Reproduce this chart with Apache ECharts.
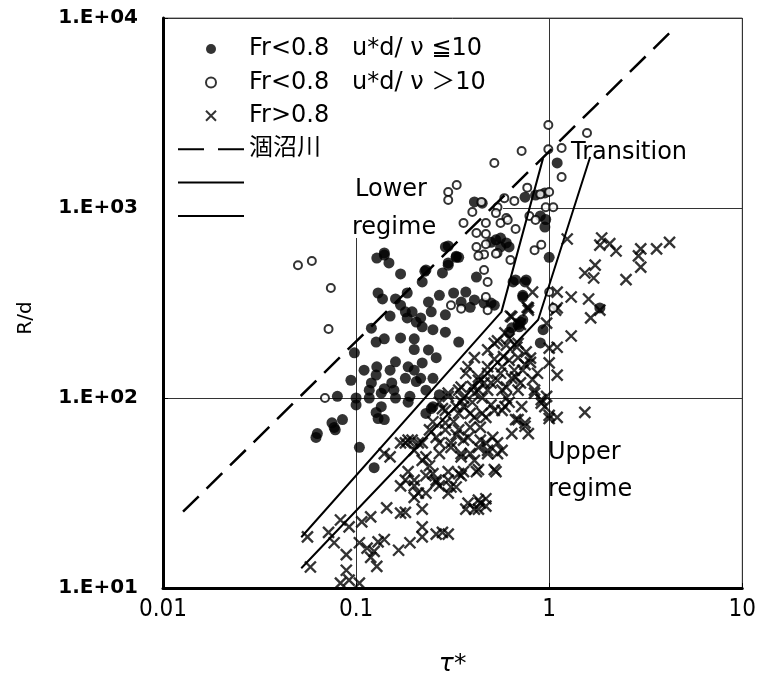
<!DOCTYPE html>
<html>
<head>
<meta charset="utf-8">
<script src="https://cdn.jsdelivr.net/npm/echarts@6/dist/echarts.min.js"></script>
<style>
html,body{margin:0;padding:0;background:#fff;}
#chart{width:759px;height:691px;}
</style>
</head>
<body>
<div id="chart"></div>
<script>
// ---- Data (τ*, R/d) ----
const xTickLabels = ['0.01', '0.1', '1', '10'];
const yTickLabels = ['1.E+01', '1.E+02', '1.E+03', '1.E+04'];

const seriesNames = ['Fr<0.8   u*d/ ν ≦10', 'Fr<0.8   u*d/ ν ＞10', 'Fr>0.8', '涸沼川', '境界線A', '境界線B'];

const lowFine = [ // Fr<0.8, u*d/ν ≤ 10 (filled)
  [0.128,545],[0.14,565],[0.148,514],[0.17,450],[0.227,464],[0.22,408],[0.28,455],[0.30,514],[0.33,550],[0.29,624],
  [0.42,433],[0.65,408],[0.75,408],[0.73,340],[1.0,550],[0.13,357],[0.137,332],[0.16,332],[0.184,357],[0.237,320],
  [0.27,347],[0.32,357],[0.37,361],[0.41,328],[0.52,308],[0.17,308],[0.18,284],[0.195,284],[0.245,284],[0.29,274],
  [0.184,264],[0.205,251],[0.216,264],[0.22,237],[0.25,229],[0.29,222],[0.34,197],[0.12,233],[0.127,197],[0.14,205],
  [0.17,207],[0.20,205],[0.098,173],[0.094,124],[0.08,102],[0.1,100],[0.16,155],[0.186,146],[0.22,153],[0.237,179],
  [0.26,163],[0.25,127],[0.128,146],[0.127,132],[0.12,120],[0.153,120],[0.18,127],[0.205,122],[0.216,127],[0.117,110],
  [0.14,112],[0.157,110],[0.19,102],[0.27,104],[0.117,100],[0.16,100],[0.71,251],[0.70,237],[0.93,229],[0.90,195],
  [0.50,316],[0.46,316],[1.83,298],[0.73,258],[0.69,244],[0.64,234],[0.62,222],[0.1,92],[0.063,65],[0.062,62],
  [0.075,74],[0.078,68],[0.085,77],[0.104,55],[0.124,43],[0.127,84],[0.13,78],[0.14,77],[0.135,90],[0.23,83],
  [0.245,88],[0.077,70],[0.135,106],[0.186,95],[0.25,90],[1.1,1726],[0.75,1140],[0.85,1170],[0.95,1200],[0.41,1077],
  [0.45,1060],[0.9,908],[0.96,870],[0.95,794],[0.56,695],[0.53,680],[0.6,655],[0.50,660],[0.30,631],[0.33,558],
  [0.14,580],[0.23,472],[0.30,500],[0.34,550],[0.62,624],[0.56,624],[0.67,418],[0.76,418],[0.73,347],
  [0.15,270],[0.2,180],[0.11,140],[0.15,140],[0.2,140],[0.23,110],[0.35,320],[0.39,300]
];

const lowCoarse = [ // Fr<0.8, u*d/ν > 10 (open)
  [0.05,500],[0.059,526],[0.074,379],[0.072,231],[0.069,100],[0.99,2735],[0.99,2040],[1.16,2070],[1.57,2480],[0.72,1995],
  [1.16,1455],[1.0,1213],[0.9,1180],[0.77,1280],[0.52,1726],[0.332,1321],[0.30,1213],[0.30,1101],[0.586,1127],[0.66,1090],
  [0.446,1077],[0.40,953],[0.54,1010],[0.53,940],[0.96,1010],[1.05,1010],[0.60,885],[0.79,908],[0.85,865],[0.36,834],
  [0.47,834],[0.56,834],[0.61,865],[0.42,738],[0.47,730],[0.67,775],[0.42,624],[0.47,645],[0.54,580],[0.84,600],
  [0.91,640],[0.46,570],[0.43,560],[0.53,575],[0.63,532],[0.46,472],[0.48,408],[0.31,308],[0.35,295],[0.47,340],
  [0.48,290],[1.0,361],[1.05,298]
];

const highFr = [ // Fr > 0.8 (crosses)
  [1.24,687],[1.87,695],[1.83,638],[2.06,650],[2.22,594],[2.98,610],[2.9,560],[3.6,610],[4.2,660],[2.98,489],
  [1.53,455],[1.73,500],[1.7,428],[2.5,420],[0.82,361],[1.1,361],[1.3,340],[1.6,332],[1.83,290],[1.64,264],
  [1.1,298],[0.78,298],[0.63,270],[0.97,248],[1.3,212],[1.1,185],[1.0,153],[1.1,132],[1.0,183],[1.53,84],
  [1.1,79],[1.0,78],[0.77,300],[1.08,290],[0.8,162],[0.95,90],[1.0,81],
  [0.64,267],[0.59,220],[0.52,194],[0.48,179],[0.41,163],[0.76,175],[0.69,194],[0.62,158],[0.8,154],[0.67,129],
  [0.56,135],[0.48,146],[0.43,129],[0.37,135],[0.35,114],[0.43,110],[0.5,120],[0.6,114],[0.69,110],[0.84,106],
  [0.91,94],[0.3,106],[0.33,90],[0.39,83],[0.47,79],[0.57,86],[0.67,77],[0.75,74],[0.78,65],[0.28,88],
  [0.29,74],[0.34,68],[0.38,62],[0.44,60],[0.51,62],[0.57,53],[0.48,51],[0.41,47],[0.35,49],[0.31,55],
  [0.26,62],[0.24,68],[0.21,58],[0.186,60],[0.22,47],[0.25,40],[0.18,37],[0.2,34.5],[0.23,31.6],[0.2,30],
  [0.26,36],[0.3,37],[0.34,40],[0.36,41],[0.43,42],[0.53,41],[0.3,31.6],[0.33,34],[0.38,28],[0.44,28],
  [0.43,26],[0.37,26],[0.47,29.5],[0.71,244],[0.78,290],[0.54,200],[0.62,205],[0.68,185],[0.69,163],[0.75,150],
  [0.87,135],[0.97,102],[0.38,146],[0.43,124],[0.48,135],[0.57,146],[0.54,124],[0.64,127],[0.71,120],[0.57,110],
  [0.48,110],[0.41,106],[0.34,110],[0.3,102],[0.36,100],[0.84,110],[0.91,98],
  [0.056,18.6],[0.058,12.9],[0.072,19.6],[0.083,22.8],[0.092,21],[0.107,22.3],[0.119,23.7],[0.144,26.4],[0.18,25],[0.22,26],
  [0.077,17.3],[0.089,15],[0.104,17.3],[0.114,16.2],[0.124,15.6],[0.13,17.5],[0.14,18],[0.119,14.5],[0.128,13],[0.089,12.4],
  [0.083,10.6],[0.104,10.6],[0.092,11],[0.166,15.8],[0.19,17.3],[0.22,18.6],[0.22,21],[0.28,19.6],[0.3,19.2],[0.26,19.2],
  [0.17,24.8],[0.14,51],[0.15,49],[0.18,58],[0.195,60],[0.22,58],[0.23,49],[0.27,58],[0.29,68],[0.33,64],
  [0.36,60],[0.43,55],[0.48,53],[0.54,51],[0.186,41],[0.2,37],[0.23,39],[0.17,34.5],[0.21,31.6],[0.26,37],
  [0.27,34.5],[0.3,41],[0.31,34],[0.35,39],[0.43,29],[0.47,27],[0.41,26],[0.42,41],[0.29,86],[0.34,83],
  [0.36,90],[0.41,79],[0.45,83],[0.52,86],[0.59,90],[0.69,77],[0.75,71],[0.64,65],[0.54,58],[0.47,58],
  [0.31,58],[0.35,51],[0.39,51],[0.52,42],[0.24,44],[0.17,58],[0.2,53],[0.27,51],
  [0.25,75],[0.27,95],[0.32,75],[0.4,95],[0.45,100],[0.5,92],[0.62,95],[0.66,140],[0.58,165],[0.52,160],
  [0.46,120],[0.4,115],[0.35,96],[0.44,70],[0.39,70],[0.6,100],[0.72,90],[0.82,125],[0.73,140],[0.6,190]
];

const hinumaLine = [[0.0127,25.2],[4.4,8740]];           // 涸沼川 (dashed)
const boundaryA = [[0.052,18.5],[0.566,284],[0.93,1830]]; // lower / transition boundary
const boundaryB = [[0.052,12.7],[0.877,258],[1.63,1854]]; // transition / upper boundary

// ---- Chart ----
const chart = echarts.init(document.getElementById('chart'));
const FONT = "'DejaVu Sans','Noto Sans CJK JP',sans-serif";
const crossPath = 'path://M0,0L10,10M10,0L0,10';
const txt = (s, l, t) => ({ type: 'text', z: 5, left: l, top: t, style: { text: s, font: "24px " + FONT, fill: '#000' } });

const option = {
  backgroundColor: '#fff',
  animation: false,
  grid: { left: 163, right: 14, top: 18, bottom: 103, show: true, borderColor: '#666', borderWidth: 1 },
  xAxis: {
    type: 'log', logBase: 10, min: 0.01, max: 10,
    name: 'τ*', nameLocation: 'middle', nameGap: 64,
    nameTextStyle: { fontFamily: FONT, fontSize: 25, color: '#000', fontStyle: 'italic' },
    axisLine: { show: true, lineStyle: { color: '#000', width: 3 } },
    axisTick: { show: true, inside: true, length: 5, lineStyle: { color: '#000' } },
    axisLabel: {
      color: '#000', fontFamily: "'Liberation Sans Narrow','DejaVu Sans Condensed','Liberation Sans',sans-serif",
      fontSize: 24, margin: 10,
      formatter: v => xTickLabels[Math.round(Math.log10(v)) + 2]
    },
    splitLine: { show: true, lineStyle: { color: '#333', width: 1 } }
  },
  yAxis: {
    type: 'log', logBase: 10, min: 10, max: 10000,
    name: 'R/d', nameLocation: 'middle', nameGap: 127, nameRotate: 90,
    nameTextStyle: { fontFamily: FONT, fontSize: 20, color: '#000', padding: [0, 30, 0, 0] },
    axisLine: { show: true, lineStyle: { color: '#000', width: 3 } },
    axisTick: { show: true, inside: true, length: 5, lineStyle: { color: '#000' } },
    axisLabel: {
      color: '#000', fontFamily: FONT, fontSize: 20, fontWeight: 'bold', margin: 25,
      formatter: v => yTickLabels[Math.round(Math.log10(v)) - 1]
    },
    splitLine: { show: true, lineStyle: { color: '#333', width: 1 } }
  },
  legend: {
    orient: 'vertical', left: 172, top: 32,
    itemWidth: 66, itemHeight: 10, itemGap: 9.4,
    data: [
      { name: seriesNames[0] },
      { name: seriesNames[1] },
      { name: seriesNames[2] },
      { name: seriesNames[3], lineStyle: { type: [26, 14] } },
      { name: seriesNames[4] },
      { name: seriesNames[5] }
    ],
    formatter: n => (n.indexOf('境界線') === 0 ? ' ' : n),
    textStyle: { fontFamily: FONT, fontSize: 24, lineHeight: 24, color: '#000' },
    selectedMode: false
  },
  graphic: [
    { type: 'rect', z: 1, shape: { x: 165, y: 19, width: 338, height: 219 }, style: { fill: '#fff' } },
    txt('Lower', 355, 178),
    txt('regime', 352, 216),
    txt('Transition', 571, 141),
    txt('Upper', 548, 441),
    txt('regime', 548, 478)
  ],
  series: [
    {
      name: seriesNames[2], type: 'scatter', data: highFr, symbol: crossPath, symbolSize: 11,
      itemStyle: { color: 'rgba(0,0,0,0)', borderColor: '#000', borderWidth: 2.4 }, z: 2
    },
    {
      name: seriesNames[0], type: 'scatter', data: lowFine, symbol: 'circle', symbolSize: 11,
      itemStyle: { color: '#000' }, z: 3
    },
    {
      name: seriesNames[1], type: 'scatter', data: lowCoarse, symbol: 'circle', symbolSize: 8,
      itemStyle: { color: '#fff', borderColor: '#000', borderWidth: 2 }, z: 4
    },
    {
      name: seriesNames[3], type: 'line', data: hinumaLine, symbol: 'none',
      itemStyle: { color: 'rgba(0,0,0,0)' },
      lineStyle: { color: '#000', width: 2.5, type: [22, 11] }, z: 5
    },
    {
      name: seriesNames[4], type: 'line', data: boundaryA, symbol: 'none',
      itemStyle: { color: 'rgba(0,0,0,0)' },
      lineStyle: { color: '#000', width: 2 }, z: 5
    },
    {
      name: seriesNames[5], type: 'line', data: boundaryB, symbol: 'none',
      itemStyle: { color: 'rgba(0,0,0,0)' },
      lineStyle: { color: '#000', width: 2 }, z: 5
    }
  ]
};
chart.setOption(option);
</script>
</body>
</html>
